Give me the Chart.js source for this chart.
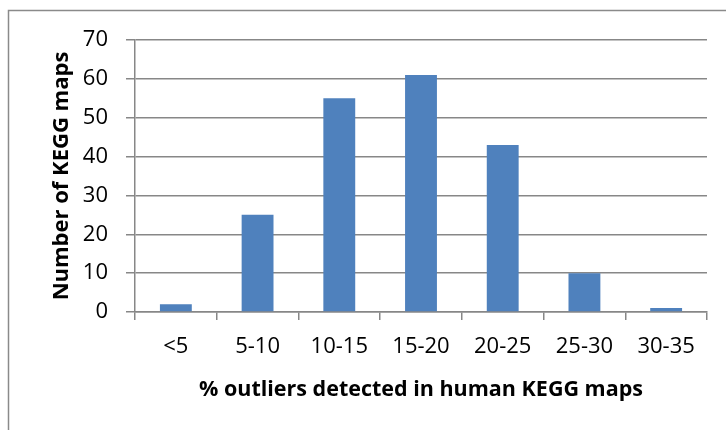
<!DOCTYPE html>
<html lang="en">
<head>
    <meta charset="UTF-8">
    <title>Outliers in human KEGG maps</title>
    <script src="https://cdn.jsdelivr.net/npm/chart.js"></script>
    <style>
        html, body { margin: 0; padding: 0; background: #fff; }
        #wrap { width: 726px; height: 430px; }
    </style>
</head>
<body>
    <div id="wrap"><canvas id="keggChart" width="726" height="430"></canvas></div>

    <script>
        // histogram bins and counts
        const bins = ['<5', '5-10', '10-15', '15-20', '20-25', '25-30', '30-35'];
        const mapCounts = [2, 25, 55, 61, 43, 10, 1];
        const yTicks = [0, 10, 20, 30, 40, 50, 60, 70];

        const lineGray = '#878787';
        const fontFamily = '"Open Sans", sans-serif';

        // thin frame around the whole chart
        const framePlugin = {
            id: 'frame',
            beforeDraw(chart) {
                const ctx = chart.ctx;
                ctx.save();
                ctx.strokeStyle = '#8a8a8a';
                ctx.lineWidth = 1.5;
                ctx.strokeRect(8.5, 10.5, 900, 600);
                ctx.restore();
            }
        };

        const ctx = document.getElementById('keggChart').getContext('2d');
        new Chart(ctx, {
            type: 'bar',
            data: {
                labels: bins,
                datasets: [{
                    data: mapCounts,
                    backgroundColor: '#4F81BD',
                    borderWidth: 0,
                    barPercentage: 0.39,
                    categoryPercentage: 1.0
                }]
            },
            plugins: [framePlugin],
            options: {
                responsive: false,
                animation: false,
                layout: { padding: { top: 40, right: 19, left: 0, bottom: 0 } },
                plugins: {
                    legend: { display: false },
                    tooltip: { enabled: false }
                },
                scales: {
                    x: {
                        afterFit: s => { s.height = 118; },
                        grid: {
                            offset: true,
                            drawOnChartArea: false,
                            color: lineGray,
                            lineWidth: 1.5,
                            tickLength: 8
                        },
                        border: { color: lineGray, width: 1.5 },
                        ticks: {
                            color: '#000',
                            padding: 14,
                            maxRotation: 0,
                            font: { family: fontFamily, size: 22 }
                        },
                        title: {
                            display: true,
                            text: '% outliers detected in human KEGG maps',
                            color: '#000',
                            font: { family: fontFamily, size: 21.5, weight: 'bold' },
                            padding: { top: 0, bottom: 27 }
                        }
                    },
                    y: {
                        min: 0,
                        max: 70,
                        afterFit: s => { s.width = 135; },
                        afterBuildTicks: s => { s.ticks = yTicks.map(v => ({ value: v })); },
                        grid: {
                            color: lineGray,
                            lineWidth: 1.5,
                            tickLength: 9
                        },
                        border: { color: lineGray, width: 1.5 },
                        ticks: {
                            color: '#000',
                            padding: 18,
                            font: { family: fontFamily, size: 22 }
                        },
                        title: {
                            display: true,
                            text: 'Number of KEGG maps',
                            color: '#000',
                            font: { family: fontFamily, size: 22, weight: 'bold' },
                            padding: { top: 49, bottom: 0 }
                        }
                    }
                }
            }
        });
    </script>
</body>
</html>
